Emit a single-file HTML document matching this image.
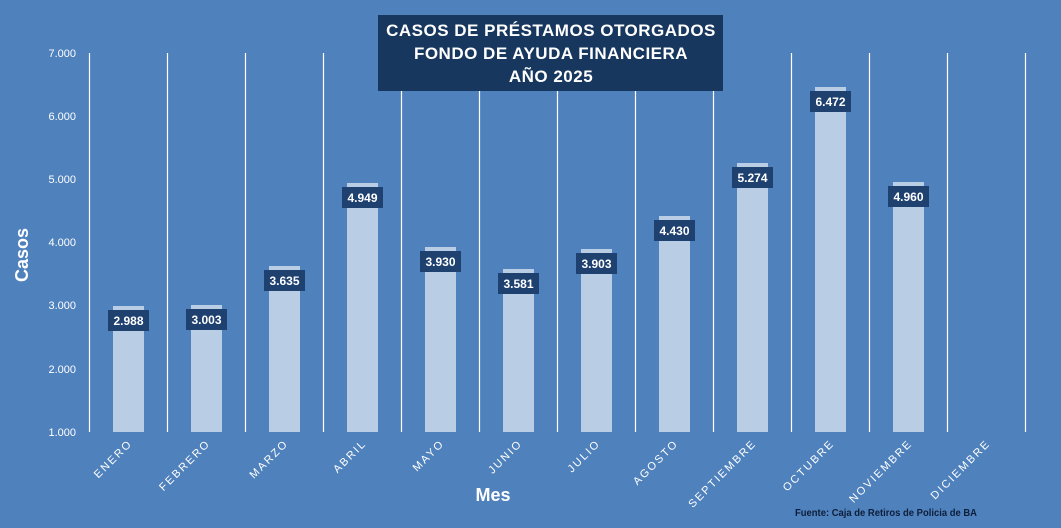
<!DOCTYPE html>
<html><head><meta charset="utf-8"><style>
html,body{margin:0;padding:0;background:#4f81bd;}
svg{display:block;font-family:"Liberation Sans","DejaVu Sans",sans-serif;}
</style></head><body>
<svg width="1061" height="528" viewBox="0 0 1061 528" xmlns="http://www.w3.org/2000/svg">
<rect width="1061" height="528" fill="#4f81bd"/>
<g fill="#fff" font-size="11" text-anchor="end">
<text x="76" y="57">7.000</text>
<text x="76" y="120">6.000</text>
<text x="76" y="183">5.000</text>
<text x="76" y="246">4.000</text>
<text x="76" y="309">3.000</text>
<text x="76" y="373">2.000</text>
<text x="76" y="436">1.000</text>
</g>
<g stroke="#fff" stroke-width="1.2">
<line x1="89.5" y1="53" x2="89.5" y2="432"/><line x1="167.5" y1="53" x2="167.5" y2="432"/>
<line x1="245.5" y1="53" x2="245.5" y2="432"/><line x1="323.5" y1="53" x2="323.5" y2="432"/>
<line x1="401.5" y1="53" x2="401.5" y2="432"/><line x1="479.5" y1="53" x2="479.5" y2="432"/>
<line x1="557.5" y1="53" x2="557.5" y2="432"/><line x1="635.5" y1="53" x2="635.5" y2="432"/>
<line x1="713.5" y1="53" x2="713.5" y2="432"/><line x1="791.5" y1="53" x2="791.5" y2="432"/>
<line x1="869.5" y1="53" x2="869.5" y2="432"/><line x1="947.5" y1="53" x2="947.5" y2="432"/>
<line x1="1025.5" y1="53" x2="1025.5" y2="432"/>
</g>
<g font-size="12" font-weight="bold" fill="#fff" text-anchor="middle">
<rect x="113" y="306" width="31" height="126" fill="#b9cde5"/><rect x="108" y="310" width="41" height="21" fill="#1f4170"/><text x="128.5" y="325">2.988</text>
<rect x="191" y="305" width="31" height="127" fill="#b9cde5"/><rect x="186" y="309" width="41" height="21" fill="#1f4170"/><text x="206.5" y="324">3.003</text>
<rect x="269" y="266" width="31" height="166" fill="#b9cde5"/><rect x="264" y="270" width="41" height="21" fill="#1f4170"/><text x="284.5" y="285">3.635</text>
<rect x="347" y="183" width="31" height="249" fill="#b9cde5"/><rect x="342" y="187" width="41" height="21" fill="#1f4170"/><text x="362.5" y="202">4.949</text>
<rect x="425" y="247" width="31" height="185" fill="#b9cde5"/><rect x="420" y="251" width="41" height="21" fill="#1f4170"/><text x="440.5" y="266">3.930</text>
<rect x="503" y="269" width="31" height="163" fill="#b9cde5"/><rect x="498" y="273" width="41" height="21" fill="#1f4170"/><text x="518.5" y="288">3.581</text>
<rect x="581" y="249" width="31" height="183" fill="#b9cde5"/><rect x="576" y="253" width="41" height="21" fill="#1f4170"/><text x="596.5" y="268">3.903</text>
<rect x="659" y="216" width="31" height="216" fill="#b9cde5"/><rect x="654" y="220" width="41" height="21" fill="#1f4170"/><text x="674.5" y="235">4.430</text>
<rect x="737" y="163" width="31" height="269" fill="#b9cde5"/><rect x="732" y="167" width="41" height="21" fill="#1f4170"/><text x="752.5" y="182">5.274</text>
<rect x="815" y="87" width="31" height="345" fill="#b9cde5"/><rect x="810" y="91" width="41" height="21" fill="#1f4170"/><text x="830.5" y="106">6.472</text>
<rect x="893" y="182" width="31" height="250" fill="#b9cde5"/><rect x="888" y="186" width="41" height="21" fill="#1f4170"/><text x="908.5" y="201">4.960</text>
</g>
<g fill="#fff" font-size="11" letter-spacing="2" text-anchor="end">
<text transform="translate(133,444) rotate(-45)">ENERO</text>
<text transform="translate(211,444) rotate(-45)">FEBRERO</text>
<text transform="translate(289,444) rotate(-45)">MARZO</text>
<text transform="translate(367,444) rotate(-45)">ABRIL</text>
<text transform="translate(445,444) rotate(-45)">MAYO</text>
<text transform="translate(523,444) rotate(-45)">JUNIO</text>
<text transform="translate(601,444) rotate(-45)">JULIO</text>
<text transform="translate(679,444) rotate(-45)">AGOSTO</text>
<text transform="translate(757,444) rotate(-45)">SEPTIEMBRE</text>
<text transform="translate(835,444) rotate(-45)">OCTUBRE</text>
<text transform="translate(913,444) rotate(-45)">NOVIEMBRE</text>
<text transform="translate(991,444) rotate(-45)">DICIEMBRE</text>
</g>
<rect x="378" y="15" width="345" height="76" fill="#17375e"/>
<g fill="#fff" font-size="17" font-weight="bold" text-anchor="middle" letter-spacing="0.5">
<text x="551" y="36">CASOS DE PRÉSTAMOS OTORGADOS</text>
<text x="551" y="59">FONDO DE AYUDA FINANCIERA</text>
<text x="551" y="82">AÑO 2025</text>
</g>
<text transform="translate(28,255) rotate(-90)" fill="#fff" font-size="18" font-weight="bold" text-anchor="middle">Casos</text>
<text x="493" y="501" fill="#fff" font-size="18" font-weight="bold" text-anchor="middle">Mes</text>
<text x="795" y="516" fill="#0d1e3a" font-size="10" font-weight="bold" textLength="182" lengthAdjust="spacingAndGlyphs">Fuente: Caja de Retiros de Policia de BA</text>
</svg>
</body></html>
